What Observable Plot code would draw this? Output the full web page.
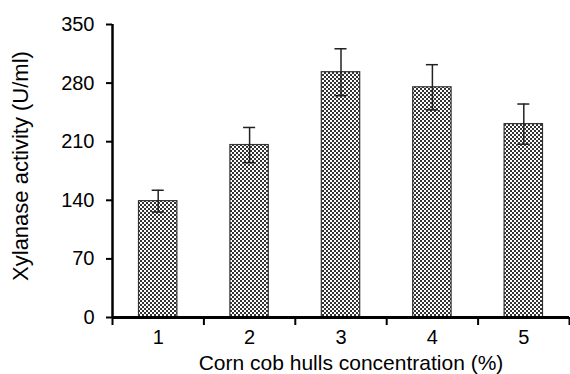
<!DOCTYPE html>
<html>
<head>
<meta charset="utf-8">
<script src="https://cdn.jsdelivr.net/npm/d3@7"></script>
<script src="https://cdn.jsdelivr.net/npm/@observablehq/plot@0.6"></script>
<style>
  html, body { margin: 0; padding: 0; background: #fff; overflow: hidden; }
</style>
</head>
<body>
<div id="chart"></div>
<script>
const categories = [1, 2, 3, 4, 5];
const values = [139, 206, 293, 275, 231];
const errors = [13, 21, 28, 27, 24];
const yTicks = [0, 70, 140, 210, 280, 350];
const xLabel = "Corn cob hulls concentration (%)";
const yLabel = "Xylanase activity (U/ml)";

const data = categories.map((c, i) => ({c, v: values[i], e: errors[i]}));
const boundaries = categories.map(c => c - 0.5).concat([categories[categories.length - 1] + 0.5]);
const halfBar = 0.21;
const halfCap = 0.066;

const chart = Plot.plot({
  width: 570,
  height: 374,
  marginLeft: 112,
  marginRight: 1,
  marginTop: 24,
  marginBottom: 57,
  style: {fontFamily: "'Liberation Sans', Arial, sans-serif", fontSize: "20px", color: "#000", background: "#fff"},
  x: {type: "linear", domain: [boundaries[0], boundaries[boundaries.length - 1]]},
  y: {domain: [0, 350]},
  marks: [
    Plot.rectY(data, {x1: d => d.c - halfBar, x2: d => d.c + halfBar, y1: 0, y2: "v", fill: "url(#checker)", stroke: "#333", strokeWidth: 1.2}),
    Plot.ruleX(data, {x: "c", y1: d => d.v - d.e, y2: d => d.v + d.e, stroke: "#222", strokeWidth: 1.5}),
    Plot.ruleY(data, {y: d => d.v + d.e, x1: d => d.c - halfCap, x2: d => d.c + halfCap, stroke: "#222", strokeWidth: 1.5}),
    Plot.ruleY(data, {y: d => d.v - d.e, x1: d => d.c - halfCap, x2: d => d.c + halfCap, stroke: "#222", strokeWidth: 1.5}),
    Plot.axisY({ticks: yTicks, tickSize: 6, tickPadding: 12, strokeWidth: 2, label: null}),
    Plot.axisX({ticks: categories, tickSize: 0, tickPadding: 12, tickFormat: d => String(d), label: null}),
    Plot.axisX({ticks: boundaries, tickSize: 8, tickFormat: () => "", strokeWidth: 2, label: null}),
    Plot.ruleX([boundaries[0]], {y1: 0, y2: 350, stroke: "#000", strokeWidth: 2.5}),
    Plot.ruleY([0], {x1: boundaries[0], x2: boundaries[boundaries.length - 1], stroke: "#000", strokeWidth: 3}),
    Plot.text([xLabel], {frameAnchor: "bottom", textAnchor: "middle", lineAnchor: "middle", dx: 10, dy: 46, fontSize: 21, fill: "#000"}),
    Plot.text([yLabel], {frameAnchor: "left", textAnchor: "middle", lineAnchor: "middle", rotate: -90, dx: -92, dy: -5, fontSize: 22, fill: "#000"})
  ]
});

d3.select(chart).insert("defs", ":first-child").html(
  '<pattern id="checker" width="4" height="4" patternUnits="userSpaceOnUse">' +
  '<rect width="4" height="4" fill="#fff"/>' +
  '<rect width="2" height="2" fill="#333"/>' +
  '<rect x="2" y="2" width="2" height="2" fill="#333"/>' +
  '</pattern>'
);

document.getElementById("chart").appendChild(chart);
</script>
</body>
</html>
